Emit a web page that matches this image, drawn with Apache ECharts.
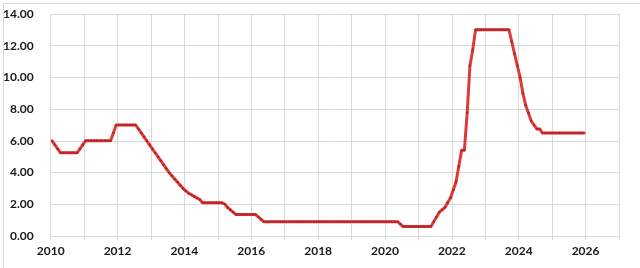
<!DOCTYPE html>
<html>
<head>
<meta charset="utf-8">
<script src="https://cdn.jsdelivr.net/npm/echarts@6/dist/echarts.min.js"></script>
<style>html,body{margin:0;padding:0;background:#fff;}#c{width:640px;height:268px;}</style>
</head>
<body>
<div id="c"></div>
<script>
// Monthly rate (end of month), one array per year, Jan..Dec
const rate2010 = [6.0, 5.75, 5.5, 5.25, 5.25, 5.25, 5.25, 5.25, 5.25, 5.25, 5.5, 5.75];
const rate2011 = [6.0, 6.0, 6.0, 6.0, 6.0, 6.0, 6.0, 6.0, 6.0, 6.0, 6.5, 7.0];
const rate2012 = [7.0, 7.0, 7.0, 7.0, 7.0, 7.0, 7.0, 6.75, 6.5, 6.25, 6.0, 5.75];
const rate2013 = [5.5, 5.25, 5.0, 4.75, 4.5, 4.25, 4.0, 3.8, 3.6, 3.4, 3.2, 3.0];
const rate2014 = [2.85, 2.7, 2.6, 2.5, 2.4, 2.3, 2.1, 2.1, 2.1, 2.1, 2.1, 2.1];
const rate2015 = [2.1, 2.1, 2.0, 1.8, 1.65, 1.5, 1.35, 1.35, 1.35, 1.35, 1.35, 1.35];
const rate2016 = [1.35, 1.35, 1.2, 1.05, 0.9, 0.9, 0.9, 0.9, 0.9, 0.9, 0.9, 0.9];
const rate2017 = [0.9, 0.9, 0.9, 0.9, 0.9, 0.9, 0.9, 0.9, 0.9, 0.9, 0.9, 0.9];
const rate2018 = [0.9, 0.9, 0.9, 0.9, 0.9, 0.9, 0.9, 0.9, 0.9, 0.9, 0.9, 0.9];
const rate2019 = [0.9, 0.9, 0.9, 0.9, 0.9, 0.9, 0.9, 0.9, 0.9, 0.9, 0.9, 0.9];
const rate2020 = [0.9, 0.9, 0.9, 0.9, 0.9, 0.75, 0.6, 0.6, 0.6, 0.6, 0.6, 0.6];
const rate2021 = [0.6, 0.6, 0.6, 0.6, 0.6, 0.9, 1.2, 1.5, 1.65, 1.8, 2.1, 2.4];
const rate2022 = [2.9, 3.4, 4.4, 5.4, 5.4, 7.75, 10.75, 11.75, 13.0, 13.0, 13.0, 13.0];
const rate2023 = [13.0, 13.0, 13.0, 13.0, 13.0, 13.0, 13.0, 13.0, 13.0, 12.25, 11.5, 10.75];
const rate2024 = [10.0, 9.0, 8.25, 7.75, 7.25, 7.0, 6.75, 6.75, 6.5, 6.5, 6.5, 6.5];
const rate2025 = [6.5, 6.5, 6.5, 6.5, 6.5, 6.5, 6.5, 6.5, 6.5, 6.5, 6.5, 6.5];

const years = [2010, 2011, 2012, 2013, 2014, 2015, 2016, 2017, 2018, 2019, 2020, 2021, 2022, 2023, 2024, 2025];
const yearlyRates = [rate2010, rate2011, rate2012, rate2013, rate2014, rate2015, rate2016, rate2017,
  rate2018, rate2019, rate2020, rate2021, rate2022, rate2023, rate2024, rate2025];
const xTickLabels = [2010, 2012, 2014, 2016, 2018, 2020, 2022, 2024, 2026];
const yTickLabels = ['0.00', '2.00', '4.00', '6.00', '8.00', '10.00', '12.00', '14.00'];

const seriesData = [];
years.forEach((y, i) => {
  yearlyRates[i].forEach((v, m) => {
    seriesData.push([y + (m + 0.5) / 12, v]);
  });
});

const gridColor = '#d9d9d9';
const font = 'Lato, "Open Sans", sans-serif';

const chart = echarts.init(document.getElementById('c'), null, {renderer: 'canvas'});
chart.setOption({
  animation: false,
  backgroundColor: '#ffffff',
  graphic: [{
    type: 'rect', left: 1, top: 1, z: -1,
    shape: {x: 0, y: 0, width: 637, height: 265},
    style: {fill: 'none', stroke: '#d9d9d9', lineWidth: 1}
  }],
  grid: {left: 50, right: 21, top: 14, bottom: 32, containLabel: false},
  xAxis: {
    type: 'value', min: 2010, max: 2027, interval: 1,
    axisLine: {show: true, lineStyle: {color: gridColor, width: 1}},
    axisTick: {show: true, length: 4, lineStyle: {color: gridColor}},
    splitLine: {show: true, lineStyle: {color: gridColor, width: 1}},
    axisLabel: {
      margin: 9, color: '#1a1a1a', fontFamily: font, fontWeight: 'bold', fontSize: 12,
      formatter: v => (xTickLabels.indexOf(v) >= 0 ? String(v) : '')
    }
  },
  yAxis: {
    type: 'value', min: 0, max: 14, interval: 2,
    axisLine: {show: false}, axisTick: {show: false},
    splitLine: {show: true, lineStyle: {color: gridColor, width: 1}},
    axisLabel: {
      margin: 17, color: '#1a1a1a', fontFamily: font, fontWeight: 'bold', fontSize: 12,
      formatter: v => yTickLabels[Math.round(v / 2)]
    }
  },
  series: [{
    type: 'line',
    data: seriesData,
    showSymbol: true, symbol: 'circle', symbolSize: 2.5,
    itemStyle: {color: '#b82222'},
    lineStyle: {color: '#de3a3a', width: 3},
    z: 3
  }]
});
</script>
</body>
</html>
